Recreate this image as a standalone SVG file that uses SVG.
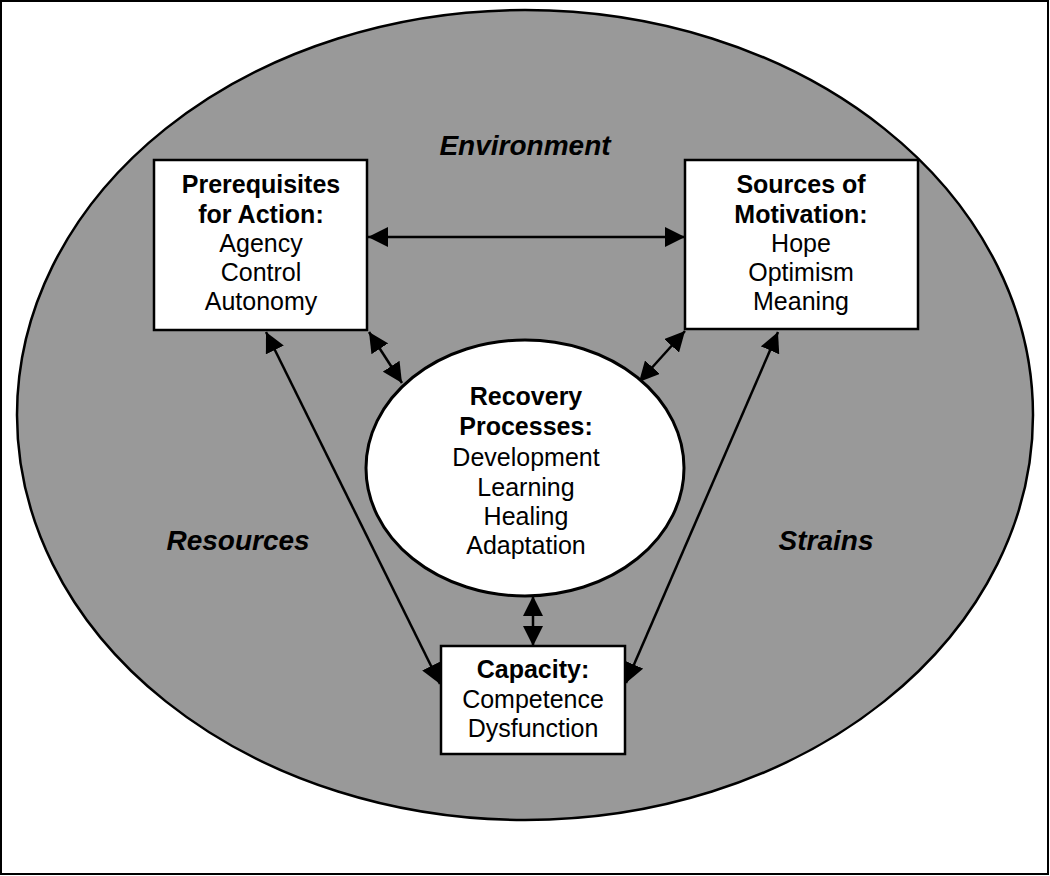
<svg xmlns="http://www.w3.org/2000/svg" width="1050" height="876" viewBox="0 0 1050 876">
<style>
.box{fill:#fff;stroke:#000;stroke-width:2.5}
.t{font-family:"Liberation Sans",Arial,sans-serif;font-size:25px;text-anchor:middle;fill:#000}
.b{font-weight:bold}
.bi{font-weight:bold;font-style:italic;font-size:28px}
.c{stroke:#000;stroke-width:2.5;fill:none;marker-start:url(#ah);marker-end:url(#ah)}
</style>
<defs>
<marker id="ah" markerUnits="userSpaceOnUse" markerWidth="20" markerHeight="20" viewBox="0 0 20 20" refX="20" refY="10" orient="auto-start-reverse">
<path d="M0,0 L20,10 L0,20 z" fill="#000"/>
</marker>
</defs>
<rect x="1" y="1" width="1047" height="873" fill="#fff" stroke="#000" stroke-width="2"/>
<g id="environment">
<ellipse cx="525" cy="415" rx="508" ry="405" fill="#999" stroke="#000" stroke-width="2.5"/>
<text class="t bi" x="525" y="155">Environment</text>
<text class="t bi" x="238" y="550">Resources</text>
<text class="t bi" x="826" y="550">Strains</text>
</g>
<g id="connectors">
<line class="c" x1="368" y1="237" x2="685" y2="237"/>
<line class="c" x1="266" y1="332" x2="440" y2="684"/>
<line class="c" x1="778" y1="332" x2="626" y2="683"/>
<line class="c" x1="369" y1="332" x2="402" y2="383"/>
<line class="c" x1="685" y1="331" x2="639" y2="382"/>
<line class="c" x1="533" y1="596" x2="533" y2="646"/>
</g>
<g id="prerequisites">
<rect class="box" x="154" y="160" width="213" height="170"/>
<text class="t b" x="261" y="193">Prerequisites</text>
<text class="t b" x="261" y="223">for Action:</text>
<text class="t" x="261" y="252">Agency</text>
<text class="t" x="261" y="281">Control</text>
<text class="t" x="261" y="310">Autonomy</text>
</g>
<g id="sources">
<rect class="box" x="685" y="160" width="233" height="169"/>
<text class="t b" x="801" y="193">Sources of</text>
<text class="t b" x="801" y="223">Motivation:</text>
<text class="t" x="801" y="252">Hope</text>
<text class="t" x="801" y="281">Optimism</text>
<text class="t" x="801" y="310">Meaning</text>
</g>
<g id="recovery">
<ellipse cx="525" cy="468" rx="159" ry="128" fill="#fff" stroke="#000" stroke-width="3"/>
<text class="t b" x="526" y="405">Recovery</text>
<text class="t b" x="526" y="435">Processes:</text>
<text class="t" x="526" y="466">Development</text>
<text class="t" x="526" y="496">Learning</text>
<text class="t" x="526" y="525">Healing</text>
<text class="t" x="526" y="554">Adaptation</text>
</g>
<g id="capacity">
<rect class="box" x="441" y="646" width="184" height="108"/>
<text class="t b" x="533" y="678">Capacity:</text>
<text class="t" x="533" y="708">Competence</text>
<text class="t" x="533" y="737">Dysfunction</text>
</g>
</svg>
